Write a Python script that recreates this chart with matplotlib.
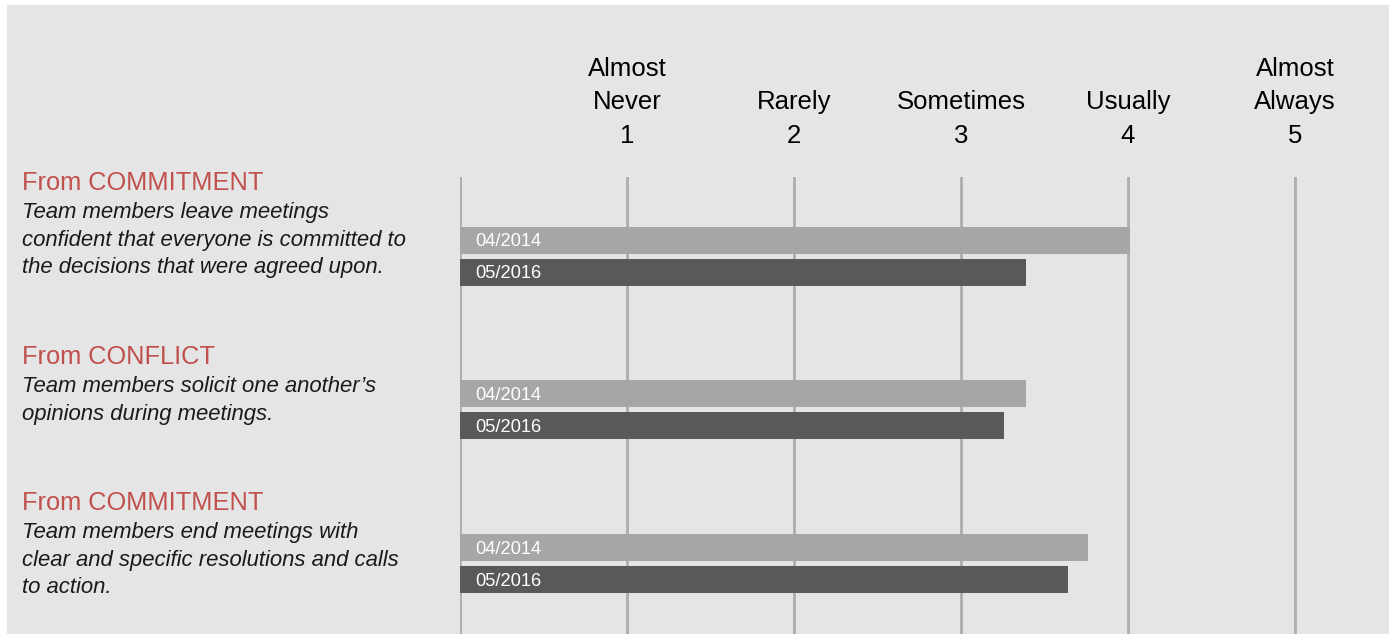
import matplotlib
matplotlib.use("Agg")
from matplotlib import pyplot as plt
from matplotlib import transforms
from matplotlib.patches import Rectangle

# data
scale_values = [1, 2, 3, 4, 5]
scale_labels = ["Almost\nNever", "Rarely", "Sometimes", "Usually", "Almost\nAlways"]
headings = ["From COMMITMENT", "From CONFLICT", "From COMMITMENT"]
statements = [
    "Team members leave meetings\nconfident that everyone is committed to\nthe decisions that were agreed upon.",
    "Team members solicit one another\u2019s\nopinions during meetings.",
    "Team members end meetings with\nclear and specific resolutions and calls\nto action.",
]
series_names = ["04/2014", "05/2016"]
scores_2014 = [4.01, 3.39, 3.76]
scores_2016 = [3.39, 3.26, 3.64]

W, H = 1389, 634
plt.rcParams['font.family'] = ['Liberation Sans', 'DejaVu Sans']

fig = plt.figure(figsize=(W / 100, H / 100), dpi=100)
fig.patch.set_facecolor('white')
bg = Rectangle((7 / W, 0), 1 - 7 / W, 1 - 5 / H, transform=fig.transFigure,
               facecolor='#e5e5e5', edgecolor='none', zorder=-10)
fig.patches.append(bg)

unit = 167.0
ax_left = 460 / W
ax_w = (W - 460) / W
ax_top = 177
ax = fig.add_axes([ax_left, 0, ax_w, 1 - ax_top / H])
ax.set_facecolor('none')
ax.set_xlim(0, (W - 460) / unit)

spacing = 153.75
ax.set_ylim((634 - 256) / spacing, (177 - 256) / spacing)

for v in [0] + scale_values:
    ax.axvline(v, color='#adadad', lw=2, zorder=1)

groups = list(range(len(headings)))
bh = 27 / spacing
off = 16 / spacing
lab_dy = 2 / spacing
ax.barh([g - off for g in groups], scores_2014, height=bh, color='#a6a6a6', zorder=2)
ax.barh([g + off for g in groups], scores_2016, height=bh, color='#595959', zorder=2)
for g in groups:
    ax.text(0.09, g - off + lab_dy, series_names[0], color='white', fontsize=13.2,
            va='center', zorder=3)
    ax.text(0.09, g + off + lab_dy, series_names[1], color='white', fontsize=13.2,
            va='center', zorder=3)

ax.axis('off')

# scale labels on top
tr = transforms.blended_transform_factory(ax.transData, fig.transFigure)
for v, lab in zip(scale_values, scale_labels):
    ax.text(v, 1 - 136 / H, str(v), transform=tr, ha='center', va='center', fontsize=18.5)
    ax.text(v, 1 - 114 / H, lab, transform=tr, ha='center', va='bottom', fontsize=18.5,
            linespacing=1.45)

# left text blocks
head_y = [183, 357, 503]
for g in groups:
    fig.text(22 / W, 1 - head_y[g] / H, headings[g], color='#c0504d', fontsize=18.3,
             va='center', ha='left')
    fig.text(22 / W, 1 - (head_y[g] + 19) / H, statements[g], color='#1a1a1a', fontsize=15.9,
             style='italic', va='top', ha='left', linespacing=1.42)

fig.savefig('out.png', dpi=100, facecolor=fig.get_facecolor())
